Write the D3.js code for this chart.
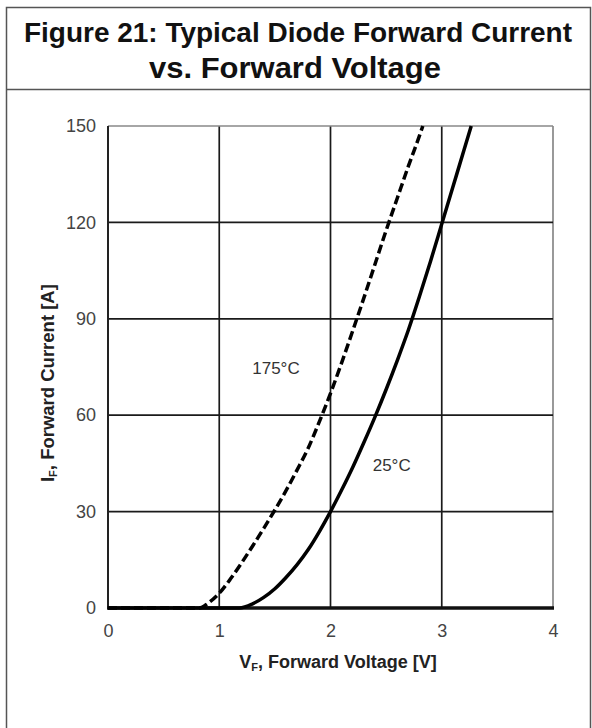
<!DOCTYPE html>
<html>
<head>
<meta charset="utf-8">
<script src="https://cdn.jsdelivr.net/npm/d3@7"></script>
<style>
  body { margin: 0; background: #fff; }
  svg { display: block; font-family: "Liberation Sans", Arial, sans-serif; }
</style>
</head>
<body>
<div id="chart"></div>
<script>
// Data: [V_F in volts, I_F in amps]
const curve25 = [
    [0, 0], [1.18, 0], [1.3, 1.3], [1.4, 3.3], [1.5, 6], [1.6, 9.5], [1.7, 13.5],
    [1.8, 18.2], [1.9, 23.8], [2.0, 30], [2.1, 36.7], [2.2, 43.8], [2.3, 51.5],
    [2.4, 59.5], [2.5, 68], [2.6, 77], [2.7, 86.5], [2.8, 97], [2.9, 108],
    [3.0, 119.5], [3.1, 131], [3.2, 142.5], [3.265, 150]
];
const curve175 = [
    [0, 0], [0.82, 0], [0.9, 1.5], [1.0, 4.6], [1.1, 9], [1.2, 14], [1.3, 19.3],
    [1.4, 24.8], [1.5, 30.5], [1.6, 36.5], [1.7, 43], [1.8, 49.8], [1.9, 58],
    [2.0, 66.8], [2.1, 76.3], [2.2, 86.3], [2.3, 96.5], [2.4, 107], [2.5, 117.5],
    [2.6, 127.5], [2.7, 137.5], [2.8, 147], [2.83, 150]
];
const xTicks = [0, 1, 2, 3, 4];
const yTicks = [0, 30, 60, 90, 120, 150];
const curveLabels = [
    { text: "175°C", v: 1.51, i: 74.5 },
    { text: "25°C", v: 2.55, i: 44.5 }
];
const titleLines = [
    { text: "Figure 21: Typical Diode Forward Current", x: 298, size: 28, len: 548 },
    { text: "vs. Forward Voltage", x: 295, size: 30, len: 292 }
];

const W = 592, H = 728;
const margin = { top: 126, right: 39, bottom: 120, left: 108 };

const svg = d3.select("#chart").append("svg")
    .attr("width", W)
    .attr("height", H);

// Frame around the figure
svg.append("path")
    .attr("d", `M6.5,${H} V7.5 H590.5 V${H}`)
    .attr("fill", "none")
    .attr("stroke", "#555")
    .attr("stroke-width", 1.5);
svg.append("line")
    .attr("x1", 6).attr("x2", 591)
    .attr("y1", 89.5).attr("y2", 89.5)
    .attr("stroke", "#555")
    .attr("stroke-width", 1.5);

// Title
svg.selectAll(".title")
    .data(titleLines)
    .enter().append("text")
    .attr("class", "title")
    .attr("x", d => d.x)
    .attr("y", (d, i) => 42 + i * 35.5)
    .attr("text-anchor", "middle")
    .attr("textLength", d => d.len)
    .attr("lengthAdjust", "spacingAndGlyphs")
    .attr("font-weight", "bold")
    .attr("font-size", d => d.size)
    .attr("fill", "#111")
    .text(d => d.text);

const x = d3.scaleLinear().domain([0, 4]).range([margin.left, W - margin.right]);
const y = d3.scaleLinear().domain([0, 150]).range([H - margin.bottom, margin.top]);

// Grid
const grid = svg.append("g");
grid.selectAll(".vgrid")
    .data(xTicks.slice(1))
    .enter().append("line")
    .attr("x1", d => x(d)).attr("x2", d => x(d))
    .attr("y1", y(0)).attr("y2", y(150))
    .attr("stroke", d => d === 4 ? "#888" : "#1a1a1a")
    .attr("stroke-width", 1.7);
grid.selectAll(".hgrid")
    .data(yTicks.slice(1))
    .enter().append("line")
    .attr("x1", x(0)).attr("x2", x(4))
    .attr("y1", d => y(d)).attr("y2", d => y(d))
    .attr("stroke", d => d === 150 ? "#888" : "#1a1a1a")
    .attr("stroke-width", 1.7);

// Axes
const xAxis = svg.append("g")
    .attr("transform", `translate(0,${y(0)})`)
    .call(d3.axisBottom(x).tickValues(xTicks).tickSize(0).tickPadding(16).tickFormat(d3.format("d")));
const yAxis = svg.append("g")
    .attr("transform", `translate(${x(0)},0)`)
    .call(d3.axisLeft(y).tickValues(yTicks).tickSize(0).tickPadding(12).tickFormat(d3.format("d")));

[xAxis, yAxis].forEach(a => {
    a.select(".domain").remove();
    a.selectAll("text")
        .attr("font-family", "'Liberation Sans', Arial, sans-serif")
        .attr("font-size", 18)
        .attr("fill", "#444");
});

svg.append("line")
    .attr("x1", x(0)).attr("x2", x(0))
    .attr("y1", y(0)).attr("y2", y(150))
    .attr("stroke", "#222").attr("stroke-width", 2);
svg.append("line")
    .attr("x1", x(0) - 1).attr("x2", x(4) + 1)
    .attr("y1", y(0)).attr("y2", y(0))
    .attr("stroke", "#111").attr("stroke-width", 3.5);

// Curves
const line = d3.line()
    .x(d => x(d[0]))
    .y(d => y(d[1]))
    .curve(d3.curveMonotoneX);

svg.append("path")
    .datum(curve175)
    .attr("d", line)
    .attr("fill", "none")
    .attr("stroke", "#000")
    .attr("stroke-width", 3.5)
    .attr("stroke-dasharray", "9,4");

svg.append("path")
    .datum(curve25)
    .attr("d", line)
    .attr("fill", "none")
    .attr("stroke", "#000")
    .attr("stroke-width", 3.5);

svg.selectAll(".clabel")
    .data(curveLabels)
    .enter().append("text")
    .attr("x", d => x(d.v))
    .attr("y", d => y(d.i))
    .attr("text-anchor", "middle")
    .attr("dominant-baseline", "central")
    .attr("font-size", 17)
    .attr("fill", "#333")
    .text(d => d.text);

// Axis titles
const xTitle = svg.append("text")
    .attr("x", 338)
    .attr("y", 668)
    .attr("text-anchor", "middle")
    .attr("font-weight", "bold")
    .attr("font-size", 18)
    .attr("fill", "#222");
xTitle.append("tspan").text("V");
xTitle.append("tspan").attr("font-size", 11).attr("dy", 3).text("F");
xTitle.append("tspan").attr("dy", -3).text(", Forward Voltage [V]");

const yTitle = svg.append("text")
    .attr("transform", `translate(54,${y(70)}) rotate(-90)`)
    .attr("text-anchor", "middle")
    .attr("font-weight", "bold")
    .attr("font-size", 18.5)
    .attr("fill", "#222");
yTitle.append("tspan").text("I");
yTitle.append("tspan").attr("font-size", 11).attr("dy", 3).text("F");
yTitle.append("tspan").attr("dy", -3).text(", Forward Current [A]");
</script>
</body>
</html>
